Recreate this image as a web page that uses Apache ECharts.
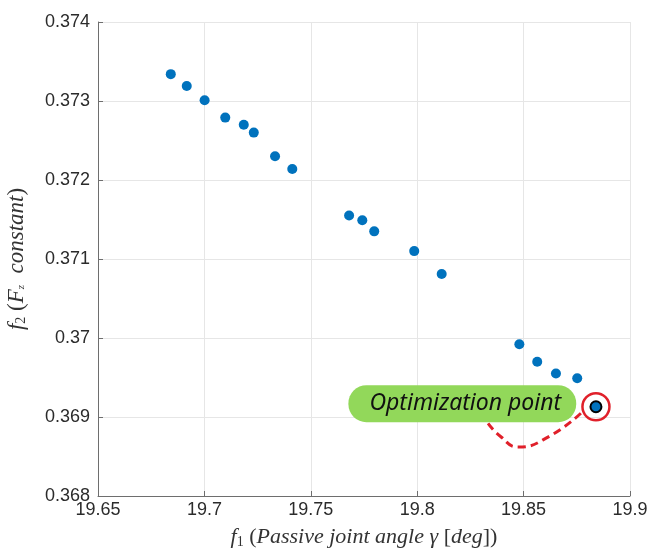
<!DOCTYPE html>
<html>
<head>
<meta charset="utf-8">
<script src="https://cdn.jsdelivr.net/npm/echarts@6/dist/echarts.min.js"></script>
<style>
html,body{margin:0;padding:0;background:#fff;}
#c{width:648px;height:551px;}
</style>
</head>
<body>
<div id="c"></div>
<script>
// Pareto front points (f1, f2)
const f1Values = [19.6842, 19.6917, 19.7001, 19.7098, 19.7185, 19.7232, 19.7332, 19.7413,
                  19.7680, 19.7742, 19.7798, 19.7986, 19.8115, 19.8480, 19.8564, 19.8652, 19.8752];
const f2Values = [0.37334, 0.37319, 0.37301, 0.37279, 0.37270, 0.37260, 0.37230, 0.37214,
                  0.37155, 0.37149, 0.37135, 0.37110, 0.37081, 0.36992, 0.36970, 0.36955, 0.36949];
// Optimization point
const optF1 = [19.8840];
const optF2 = [0.36913];
// Annotation dashed leader curve (data coordinates)
const leaderF1 = [19.8333, 19.8389, 19.8474, 19.8624, 19.8774];
const leaderF2 = [0.36892, 0.36876, 0.36862, 0.36876, 0.36906];
// Axis tick settings
const xTicks = [19.65, 19.7, 19.75, 19.8, 19.85, 19.9];
const yTicks = [0.368, 0.369, 0.37, 0.371, 0.372, 0.373, 0.374];
const annotationText = 'Optimization point';

const pareto = f1Values.map((v, i) => [v, f2Values[i]]);
const opt = optF1.map((v, i) => [v, optF2[i]]);
const leader = leaderF1.map((v, i) => [v, leaderF2[i]]);

const chart = echarts.init(document.getElementById('c'), null, {renderer: 'canvas'});
const serif = '"Liberation Serif", "DejaVu Serif", serif';
const sans = '"Liberation Sans", Arial, sans-serif';

chart.setOption({
  animation: false,
  backgroundColor: '#ffffff',
  grid: {left: 98, top: 22, right: 18, bottom: 55, containLabel: false, outerBoundsMode: 'none'},
  xAxis: {
    type: 'value',
    min: xTicks[0], max: xTicks[xTicks.length - 1], interval: 0.05,
    axisLine: {show: true, lineStyle: {color: '#6e6e6e', width: 1}},
    axisTick: {show: true, inside: true, length: 5, lineStyle: {color: '#6e6e6e'}},
    splitLine: {show: true, lineStyle: {color: '#e6e6e6', width: 1}},
    axisLabel: {
      color: '#2b2b2b', fontFamily: sans, fontSize: 18, margin: 5,
      formatter: v => String(+v.toFixed(2))
    },
    name: '{i|f}{s|1}{u| (}{i|Passive joint angle γ }{u|[}{i|deg}{u|])}',
    nameLocation: 'middle', nameGap: 30,
    nameTextStyle: {
      rich: {
        i: {fontFamily: serif, fontStyle: 'italic', fontSize: 22, color: '#333'},
        u: {fontFamily: serif, fontSize: 22, color: '#333'},
        s: {fontFamily: serif, fontSize: 14, color: '#333', padding: [9, 0, 0, 0]}
      }
    }
  },
  yAxis: {
    type: 'value',
    min: yTicks[0], max: yTicks[yTicks.length - 1], interval: 0.001,
    axisLine: {show: true, lineStyle: {color: '#6e6e6e', width: 1}},
    axisTick: {show: true, inside: true, length: 5, lineStyle: {color: '#6e6e6e'}},
    splitLine: {show: true, lineStyle: {color: '#e6e6e6', width: 1}},
    axisLabel: {
      color: '#2b2b2b', fontFamily: sans, fontSize: 18, margin: 8,
      formatter: v => String(+v.toFixed(3))
    },
    name: '{i|f}{s|2}{u| (}{i|F}{ss|z}{i|  constant}{u|)}',
    nameLocation: 'middle', nameGap: 70, nameRotate: 90,
    nameTextStyle: {
      rich: {
        i: {fontFamily: serif, fontStyle: 'italic', fontSize: 23, color: '#333'},
        u: {fontFamily: serif, fontSize: 23, color: '#333'},
        s: {fontFamily: serif, fontSize: 14, color: '#333', padding: [9, 0, 0, 0]},
        ss: {fontFamily: serif, fontStyle: 'italic', fontSize: 11, color: '#333', padding: [10, 0, 0, 0]}
      }
    }
  },
  series: [
    {
      type: 'line', data: leader, smooth: 0.5, showSymbol: false, symbol: 'none',
      lineStyle: {color: '#e0202a', width: 3, type: [8, 5]}, z: 1, silent: true
    },
    {
      type: 'scatter', data: pareto, symbol: 'circle', symbolSize: 10,
      itemStyle: {color: '#0072BD', opacity: 1}, z: 3
    },
    {
      type: 'scatter', data: opt, symbol: 'circle', symbolSize: 27,
      itemStyle: {color: 'rgba(255,255,255,0)', borderColor: '#e0202a', borderWidth: 2.5, opacity: 1},
      label: {
        show: true, position: 'left', distance: 5, formatter: annotationText,
        backgroundColor: '#92d85a', borderRadius: 18, padding: [8, 15, 8, 21],
        fontFamily: '"Noto Sans", "Open Sans", sans-serif', fontStyle: 'italic',
        fontSize: 23, lineHeight: 21, color: '#111', offset: [0, -3]
      },
      z: 4
    },
    {
      type: 'scatter', data: opt, symbol: 'circle', symbolSize: 11,
      itemStyle: {color: '#0072BD', borderColor: '#000', borderWidth: 2, opacity: 1}, z: 5
    }
  ]
});
</script>
</body>
</html>
